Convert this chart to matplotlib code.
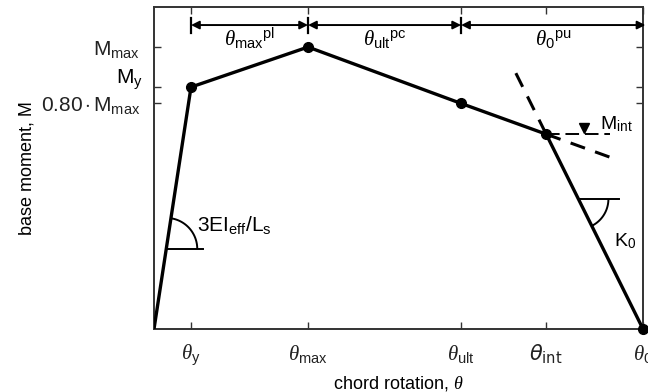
"""Idealised moment-rotation backbone with annotated branches."""

import numpy as np
import matplotlib

matplotlib.use("Agg")
import matplotlib.pyplot as plt

plt.rcParams["font.family"] = "Liberation Sans"
plt.rcParams["mathtext.fontset"] = "custom"
plt.rcParams["mathtext.rm"] = "Liberation Sans"
plt.rcParams["mathtext.it"] = "Liberation Serif:italic"

# backbone points (normalised): origin, yield, max, ultimate, intersection, zero
theta = [0.0, 0.0757, 0.315, 0.628, 0.802, 1.0]
moment = [0.0, 0.858, 1.0, 0.80, 0.691, 0.0]

x_ticks = [0.0757, 0.315, 0.628, 0.802, 1.0]
x_tick_labels = [
    r"$\theta_{\mathrm{y}}$",
    r"$\theta_{\mathrm{max}}$",
    r"$\theta_{\mathrm{ult}}$",
    r"$\theta_{\mathrm{int}}$",
    r"$\theta_{0}$",
]
y_ticks = [0.80, 0.858, 1.0]
y_tick_labels = [r"$0.80\cdot\mathrm{M}_{\mathrm{max}}$", "", r"$\mathrm{M}_{\mathrm{max}}$"]

span_ends = [0.0757, 0.315, 0.628, 1.005]
span_labels = [
    r"$\theta_{\mathrm{max}}{}^{\mathrm{pl}}$",
    r"$\theta_{\mathrm{ult}}{}^{\mathrm{pc}}$",
    r"$\theta_{0}{}^{\mathrm{pu}}$",
]

XLIM = (0.0, 1.0)
YLIM = (0.0, 1.142)
FIG_W, FIG_H = 6.48, 3.92
AX_RECT = (154 / 648, 63 / 392, 489 / 648, 322 / 392)

fig = plt.figure(figsize=(FIG_W, FIG_H), dpi=100)
ax = fig.add_axes(AX_RECT)
ax.set_xlim(*XLIM)
ax.set_ylim(*YLIM)

# pixels per data unit, used to draw round arcs
sx = FIG_W * 100 * AX_RECT[2] / (XLIM[1] - XLIM[0])
sy = FIG_H * 100 * AX_RECT[3] / (YLIM[1] - YLIM[0])


def arc(cx, cy, radius_px, a0, a1):
    t = np.radians(np.linspace(a0, a1, 60))
    ax.plot(cx + radius_px * np.cos(t) / sx, cy + radius_px * np.sin(t) / sy,
            color="black", lw=1.4, solid_capstyle="butt")


def pix_angle(x0, y0, x1, y1):
    return np.degrees(np.arctan2((y1 - y0) * sy, (x1 - x0) * sx))


ax.plot(theta, moment, color="black", lw=2.4, zorder=3)
ax.plot(theta[1:], moment[1:], "o", color="black", ms=7, zorder=4, clip_on=False)

# dashed extensions through the intersection point
ti, mi = theta[4], moment[4]
slope_down = (moment[5] - mi) / (theta[5] - ti)
slope_pc = (moment[3] - mi) / (theta[3] - ti)
dash = dict(color="black", lw=2.2, dashes=(5, 3.5))
ax.plot([0.740, ti], [mi + slope_down * (0.740 - ti), mi], **dash)
ax.plot([ti, 0.933], [mi, mi + slope_pc * (0.933 - ti)], **dash)
ax.plot([ti, 0.933], [mi, mi], color="black", lw=1.4, dashes=(7, 3))
ax.plot([0.879], [mi + 0.022], "v", color="black", ms=7)
ax.text(0.912, mi + 0.0, r"$\mathrm{M}_{\mathrm{int}}$", fontsize=14, va="bottom")

# initial stiffness angle
yk = 0.284
xk = theta[1] * yk / moment[1]
ax.plot([xk, 0.1], [yk, yk], color="black", lw=1.4)
arc(xk, yk, 31, 0, pix_angle(0, 0, theta[1], moment[1]))
ax.text(0.088, 0.37, r"$3\mathrm{EI}_{\mathrm{eff}}/\mathrm{L}_{\mathrm{s}}$", fontsize=15, va="center")

# post-capping stiffness angle
yk0 = 0.461
xk0 = ti + (yk0 - mi) / slope_down
ax.plot([xk0, 0.951], [yk0, yk0], color="black", lw=1.4)
arc(xk0, yk0, 30, pix_angle(ti, mi, theta[5], moment[5]), 0)
ax.text(0.94, 0.31, r"$\mathrm{K}_{0}$", fontsize=14, va="center")

# dimension lines along the top
y_dim = 1.078
for x in span_ends[:3]:
    ax.plot([x, x], [1.050, 1.103], color="black", lw=1.6)
for x0, x1, label in zip(span_ends[:-1], span_ends[1:], span_labels):
    ax.annotate("", xy=(x1, y_dim), xytext=(x0, y_dim), annotation_clip=False,
                arrowprops=dict(arrowstyle="<|-|>", color="black", lw=1.4,
                                shrinkA=0, shrinkB=0, mutation_scale=12))
    ax.text((x0 + x1) / 2, 1.030, label, fontsize=15, ha="center", va="center")

ax.set_xticks(x_ticks)
ax.set_xticklabels(x_tick_labels, fontsize=15)
ax.get_xticklabels()[3].set_math_fontfamily("dejavusans")
ax.set_yticks(y_ticks)
ax.set_yticklabels(y_tick_labels, fontsize=15)
ax.text(-0.022, 0.885, r"$\mathrm{M}_{\mathrm{y}}$", transform=ax.get_yaxis_transform(),
        fontsize=15, ha="right", va="center")
ax.tick_params(direction="in", length=5, width=1, top=True, right=True, pad=10, colors="#333333")
ax.tick_params(labelcolor="#222222")
for spine in ax.spines.values():
    spine.set_linewidth(1.4)
    spine.set_color("#333333")

ax.set_xlabel(r"chord rotation, $\theta$", fontsize=13, labelpad=4)
ax.set_ylabel("base moment, M", fontsize=13, labelpad=4)

fig.savefig("out.png", dpi=100)
